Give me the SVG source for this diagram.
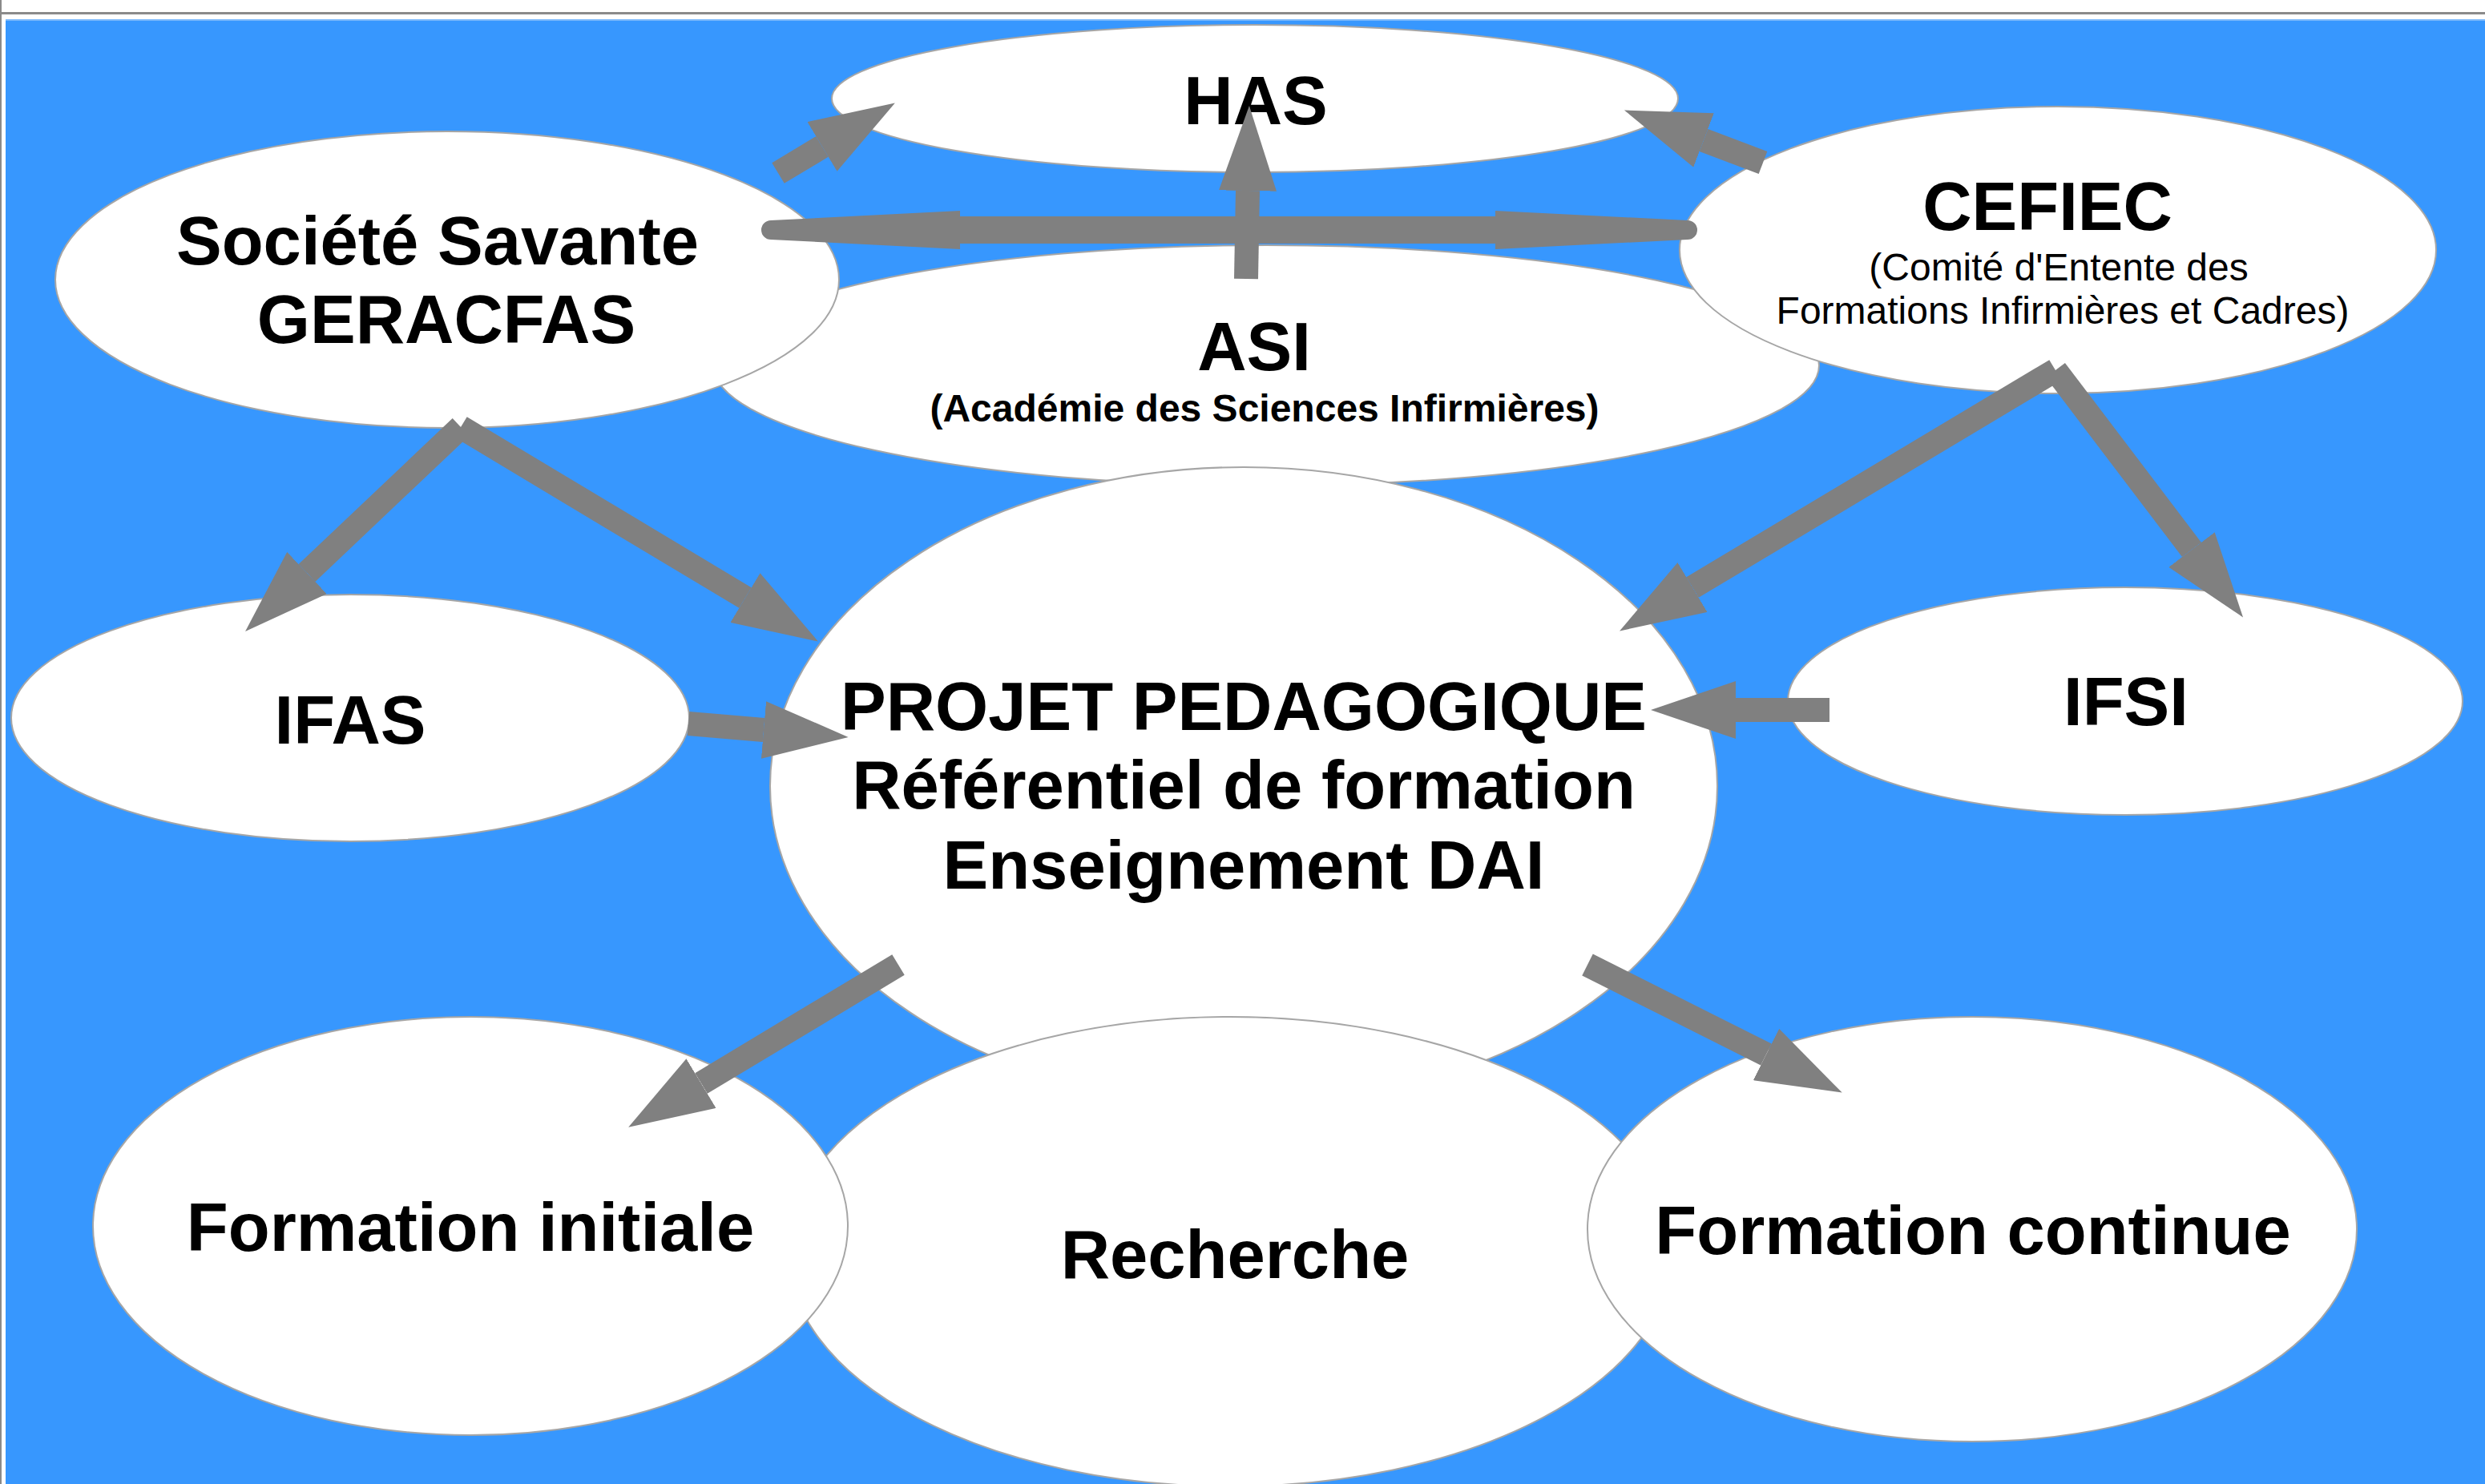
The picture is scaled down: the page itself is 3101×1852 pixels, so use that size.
<svg xmlns="http://www.w3.org/2000/svg" width="3101" height="1852" viewBox="0 0 3101 1852">
<defs>
<style>
.node ellipse{fill:#ffffff;stroke:#a6a6a6;stroke-width:2}
.b{font-family:"Liberation Sans",Arial,sans-serif;font-weight:bold;font-size:85px;fill:#000;text-anchor:middle}
.s{font-family:"Liberation Sans",Arial,sans-serif;font-weight:bold;font-size:48px;fill:#000;text-anchor:middle}
.r{font-family:"Liberation Sans",Arial,sans-serif;font-weight:normal;font-size:48px;fill:#000;text-anchor:middle}
.c line{stroke:#808080;stroke-width:30;fill:none;marker-end:url(#ah)}
</style>
<marker id="ah" markerUnits="userSpaceOnUse" markerWidth="106" markerHeight="72" viewBox="0 -36 106 72" refX="0" refY="0" orient="auto">
<path d="M0,-36 L106,0 L0,36 Z" fill="#808080"/>
</marker>
</defs>
<rect x="0" y="0" width="3101" height="1852" fill="#ffffff"/>
<rect x="0" y="15" width="3101" height="3" fill="#8a8a8a"/>
<rect x="0" y="0" width="2" height="1852" fill="#8a8a8a"/>
<rect x="7" y="24" width="3094" height="1828" fill="#3797fe"/>
<rect x="7" y="24" width="3094" height="2" fill="#7ab8fb"/>

<g id="asi" class="node">
<ellipse cx="1580" cy="456" rx="690" ry="150"/>
<text class="b" x="1565" y="462">ASI</text>
<text class="s" x="1578" y="526">(Académie des Sciences Infirmières)</text>
</g>
<g id="has" class="node">
<ellipse cx="1566" cy="123" rx="528" ry="92"/>
<text class="b" x="1567" y="155">HAS</text>
</g>
<g id="societe" class="node">
<ellipse cx="558" cy="349" rx="489" ry="185"/>
<text class="b" x="546" y="330">Société Savante</text>
<text class="b" x="557" y="428">GERACFAS</text>
</g>
<g id="cefiec" class="node">
<ellipse cx="2568" cy="312" rx="472" ry="179"/>
<text class="b" x="2555" y="287">CEFIEC</text>
<text class="r" x="2569" y="350">(Comité d'Entente des</text>
<text class="r" x="2574" y="404">Formations Infirmières et Cadres)</text>
</g>
<g id="ifas" class="node">
<ellipse cx="437" cy="896" rx="423" ry="154"/>
<text class="b" x="437" y="928">IFAS</text>
</g>
<g id="ifsi" class="node">
<ellipse cx="2652" cy="875" rx="421" ry="142"/>
<text class="b" x="2653" y="905">IFSI</text>
</g>
<g id="projet" class="node">
<ellipse cx="1552" cy="981" rx="591" ry="398"/>
<text class="b" x="1552" y="911">PROJET PEDAGOGIQUE</text>
<text class="b" x="1552" y="1009">Référentiel de formation</text>
<text class="b" x="1552" y="1109">Enseignement DAI</text>
</g>
<g id="recherche" class="node">
<ellipse cx="1535" cy="1562" rx="552" ry="293"/>
<text class="b" x="1541" y="1595">Recherche</text>
</g>
<g id="formation-initiale" class="node">
<ellipse cx="587" cy="1530" rx="471" ry="261"/>
<text class="b" x="587" y="1561">Formation initiale</text>
</g>
<g id="formation-continue" class="node">
<ellipse cx="2461" cy="1534" rx="480" ry="265"/>
<text class="b" x="2462" y="1565">Formation continue</text>
</g>

<g id="connectors" class="c">
<path d="M962,275 L1198,263 L1198,270 L1866,270 L1866,263 L2106,275 A12,12 0 0 1 2106,299 L1866,311 L1866,304 L1198,304 L1198,311 L962,299 A12,12 0 0 1 962,275 Z" fill="#808080"/>
<line x1="971" y1="216" x2="1026" y2="183"/>
<line x1="1555" y1="348" x2="1557" y2="238"/>
<line x1="2200" y1="203" x2="2126" y2="175"/>
<line x1="575" y1="533" x2="383" y2="715"/>
<line x1="575" y1="533" x2="930" y2="746"/>
<line x1="859" y1="903" x2="953" y2="911"/>
<line x1="2283" y1="886" x2="2166" y2="886"/>
<line x1="2565" y1="462" x2="2112" y2="733"/>
<line x1="2565" y1="462" x2="2735" y2="686"/>
<line x1="1121" y1="1204" x2="875" y2="1352"/>
<line x1="1981" y1="1204" x2="2204" y2="1316"/>
</g>
</svg>
